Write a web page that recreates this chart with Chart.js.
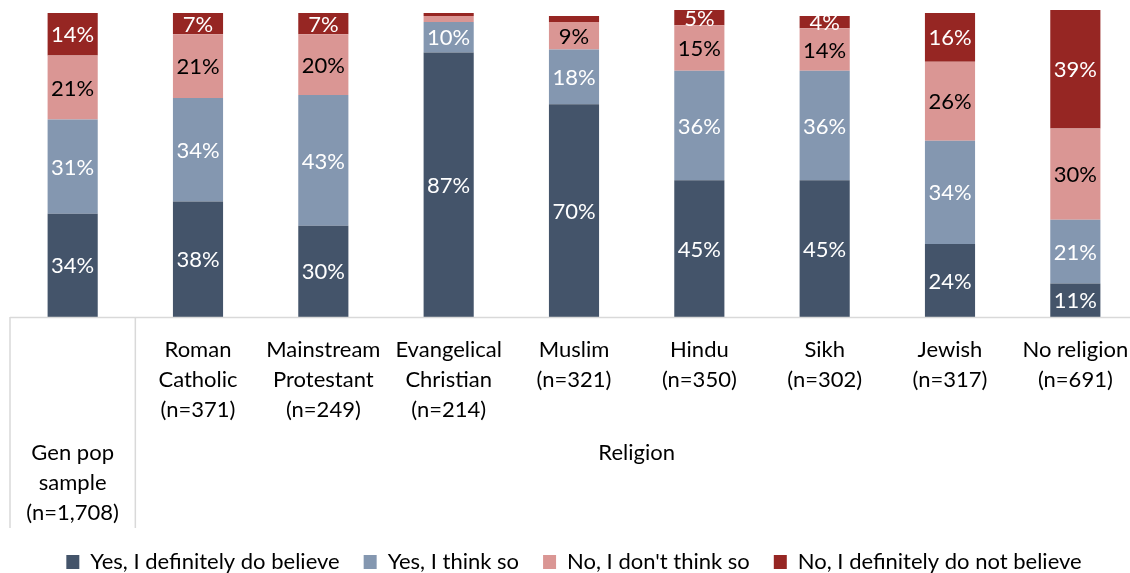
<!DOCTYPE html>
<html>
<head>
<meta charset="utf-8">
<script src="https://cdn.jsdelivr.net/npm/chart.js@4.4.1/dist/chart.umd.min.js"></script>
<style>
  body { margin: 0; overflow: hidden; background: #fff; }
  #wrap { width: 1140px; height: 573px; }
</style>
</head>
<body>
<div id="wrap"><canvas id="chart"></canvas></div>
<script>
const categories = [
  [],
  ['Roman', 'Catholic', '(n=371)'],
  ['Mainstream', 'Protestant', '(n=249)'],
  ['Evangelical', 'Christian', '(n=214)'],
  ['Muslim', '(n=321)'],
  ['Hindu', '(n=350)'],
  ['Sikh', '(n=302)'],
  ['Jewish', '(n=317)'],
  ['No religion', '(n=691)']
];
const genPopLabel = ['Gen pop', 'sample', '(n=1,708)'];
const groupLabel = 'Religion';

const definitelyYes = [34, 38, 30, 87, 70, 45, 45, 24, 11];
const thinkYes      = [31, 34, 43, 10, 18, 36, 36, 34, 21];
const thinkNo       = [21, 21, 20, 2, 9, 15, 14, 26, 30];
const definitelyNo  = [14, 7, 7, 1, 2, 5, 4, 16, 39];

const seriesNames = ['Yes, I definitely do believe', 'Yes, I think so', "No, I don't think so", 'No, I definitely do not believe'];
const colors = ['#44546A', '#8497B0', '#DA9694', '#962623'];
const labelColors = ['#fff', '#fff', '#000', '#fff'];

const FONT = 'Lato';
const SIZE = 22;

// labels on the segments, skip the tiny ones
const segLabels = {
  id: 'segLabels',
  afterDatasetsDraw(chart) {
    const ctx = chart.ctx;
    ctx.save();
    ctx.font = SIZE + 'px ' + FONT;
    ctx.textAlign = 'center';
    ctx.textBaseline = 'middle';
    chart.data.datasets.forEach((ds, i) => {
      chart.getDatasetMeta(i).data.forEach((bar, j) => {
        const v = ds.data[j];
        if (v < 4) return;
        ctx.fillStyle = labelColors[i];
        ctx.fillText(v + '%', bar.x, (bar.y + bar.base) / 2 + 1);
      });
    });
    ctx.restore();
  }
};

// category group lines + gen pop / religion labels
const axisGroups = {
  id: 'axisGroups',
  afterDraw(chart) {
    const ctx = chart.ctx;
    const x = chart.scales.x;
    const bottom = chart.chartArea.bottom;
    const half = (x.getPixelForValue(1) - x.getPixelForValue(0)) / 2;
    const left = x.getPixelForValue(0) - half;
    const split = x.getPixelForValue(0) + half;
    const right = x.getPixelForValue(8) + half;
    ctx.save();
    ctx.strokeStyle = '#D9D9D9';
    ctx.lineWidth = 1.5;
    ctx.beginPath();
    ctx.moveTo(left, bottom + 0.5);
    ctx.lineTo(right, bottom + 0.5);
    ctx.moveTo(left, bottom);
    ctx.lineTo(left, bottom + 211);
    ctx.moveTo(split, bottom);
    ctx.lineTo(split, bottom + 211);
    ctx.stroke();
    ctx.font = SIZE + 'px ' + FONT;
    ctx.fillStyle = '#000';
    ctx.textAlign = 'center';
    ctx.textBaseline = 'middle';
    genPopLabel.forEach((t, k) => ctx.fillText(t, x.getPixelForValue(0), bottom + 136 + k * 30));
    ctx.fillText(groupLabel, (split + right) / 2, bottom + 136);
    ctx.restore();
  }
};

new Chart(document.getElementById('chart'), {
  type: 'bar',
  data: {
    labels: categories,
    datasets: [definitelyYes, thinkYes, thinkNo, definitelyNo].map((d, i) => ({
      label: seriesNames[i],
      data: d,
      backgroundColor: colors[i],
      barPercentage: 0.4,
      categoryPercentage: 1,
      clip: false
    }))
  },
  options: {
    responsive: true,
    maintainAspectRatio: false,
    animation: false,
    layout: { padding: { left: 10, right: 2, top: 13, bottom: -10 } },
    scales: {
      x: {
        stacked: true,
        grid: { display: false },
        border: { display: false },
        ticks: {
          color: '#000',
          padding: 10,
          maxRotation: 0,
          autoSkip: false,
          font: { family: FONT, size: SIZE, lineHeight: 1.364 }
        },
        afterFit(scale) { scale.height = 210; }
      },
      y: {
        stacked: true,
        display: false,
        min: 0,
        max: 100
      }
    },
    plugins: {
      legend: {
        position: 'bottom',
        labels: {
          color: '#000',
          boxWidth: 13,
          boxHeight: 14,
          padding: 24,
          font: { family: FONT, size: SIZE }
        }
      },
      tooltip: { enabled: false }
    }
  },
  plugins: [segLabels, axisGroups]
});
</script>
</body>
</html>
